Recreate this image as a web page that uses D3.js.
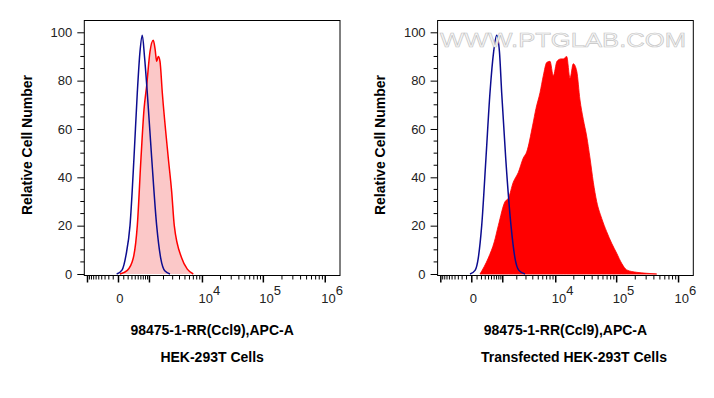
<!DOCTYPE html>
<html>
<head>
<meta charset="utf-8">
<script src="https://cdn.jsdelivr.net/npm/d3@7"></script>
<style>
  html, body { margin: 0; padding: 0; background: #fff; }
  svg { display: block; font-family: Arial, 'Liberation Sans', sans-serif; }
</style>
</head>
<body>
<div id="chart"></div>
<script>
// ---------------- data ----------------
const panelTitles = ['HEK-293T Cells', 'Transfected HEK-293T Cells'];
const xAxisTitle = '98475-1-RR(Ccl9),APC-A';
const yAxisTitle = 'Relative Cell Number';

// fluorescence values (APC-A) and relative cell counts
const leftBlueX = [-32, 64, 149, 247, 360, 468, 566, 657, 753, 886, 1126, 1449, 1757, 2140, 2672];
const leftBlueY = [0, 1.6, 7.8, 20, 48, 75, 92, 98.8, 90, 75, 48, 20, 6.6, 1.2, 0];

const leftRedX = [26, 180, 339, 468, 605, 731, 856, 1029, 1222, 1340, 1449, 1567, 1699, 1893, 2480, 2876, 3214, 4376, 5500, 6982];
const leftRedY = [0, 1.5, 6.6, 20, 48, 68, 78, 92, 96.7, 93, 88, 90, 88, 75, 48, 34, 20, 6.6, 2, 0];

const rightBlueX = [-32, 60, 126, 206, 321, 447, 580, 705, 830, 942, 1168, 1523, 1839, 2200, 2876];
const rightBlueY = [0, 1.5, 6.6, 20, 48, 75, 92, 98.8, 92, 75, 48, 20, 6.6, 1.5, 0];

const rightRedX = [165, 391, 605, 776, 1126, 1333, 1699, 2140, 2672, 3093, 3983, 4562, 5367, 6127, 7015, 7990,
  9090, 10490, 12250, 13380, 15250, 17300, 19610, 22320, 25280, 28620, 32550, 36860, 41750, 47410, 57180,
  68940, 83100, 100150, 120660, 145400, 211100, 306000, 443600];
const rightRedY = [0, 6.6, 13.3, 20, 29.9, 31.3, 38, 42, 48, 50.5, 61.6, 68.5, 75, 82, 87.5, 88,
  82, 88, 89, 89, 90, 81, 87, 84, 72, 64, 57, 48, 38, 30, 23,
  17.5, 12.7, 8.6, 4.4, 1.7, 0.7, 0.3, 0];

const yTickValues = [0, 20, 40, 60, 80, 100];
const xLabelValues = [0, 1e4, 1e5, 1e6];
const xLabelExps = ['', '4', '5', '6'];
const xMajorTicks = [-1e3, 0, 1e3, 1e4, 1e5, 1e6];

// ---------------- settings ----------------
const settings = {
  color: {
    axis: '#000',
    blue: '#0c0c90',
    red: '#ff0000',
    pink: '#fbc8c8',
    text: '#222'
  }
};

const totalWidth = 714, totalHeight = 398;
const panel = { left: 84.3, top: 20.5, width: 255.7, height: 255, step: 353.3 };
const sampleTitleShift = [0, 8.5];

function zip(xs, ys){ return xs.map((x, i) => ({ x: x, y: ys[i] })); }

const panels = [
  { title: panelTitles[0], red: zip(leftRedX, leftRedY), blue: zip(leftBlueX, leftBlueY), filled: false },
  { title: panelTitles[1], red: zip(rightRedX, rightRedY), blue: zip(rightBlueX, rightBlueY), filled: true }
];

// minor x ticks: 2..9 per decade, both signs near zero
const xMinorTicks = [];
[100, 1000, 10000, 100000].forEach(function(dec){
  for (let k = 1; k <= 9; k++){
    const v = k * dec;
    if (xMajorTicks.indexOf(v) < 0) xMinorTicks.push(v);
    if (dec <= 100) xMinorTicks.push(-v);
  }
});

// ---------------- svg ----------------
const svg = d3.select('#chart').append('svg')
  .attr('width', totalWidth)
  .attr('height', totalHeight);

const xScale = d3.scaleSymlog()
  .constant(463)
  .domain([-1185, 1.73e6])
  .range([0, panel.width]);

const yScale = d3.scaleLinear()
  .domain([0, 100])
  .range([253.5, 11.8]);

const area = d3.area()
  .x(d => xScale(d.x))
  .y0(yScale(0))
  .y1(d => yScale(d.y))
  .curve(d3.curveMonotoneX);

const line = d3.line()
  .x(d => xScale(d.x))
  .y(d => yScale(d.y))
  .curve(d3.curveMonotoneX);

svg.append('defs').append('clipPath')
  .attr('id', 'plotClip')
  .append('rect')
    .attr('width', panel.width)
    .attr('height', panel.height);

panels.forEach(function(p, i){
  const g = svg.append('g')
    .attr('transform', 'translate(' + (panel.left + i * panel.step) + ',' + panel.top + ')');

  //------------------ curves ------------------
  const plot = g.append('g').attr('clip-path', 'url(#plotClip)');

  if (p.filled){
    plot.append('path')
      .attr('d', area(p.red))
      .attr('fill', settings.color.red)
      .attr('stroke', settings.color.red)
      .attr('stroke-width', 0.8);
  } else {
    plot.append('path')
      .attr('d', area(p.red))
      .attr('fill', settings.color.pink);
    plot.append('path')
      .attr('d', line(p.red))
      .attr('fill', 'none')
      .attr('stroke', settings.color.red)
      .attr('stroke-width', 1.5);
  }

  plot.append('path')
    .attr('d', line(p.blue))
    .attr('fill', 'none')
    .attr('stroke', settings.color.blue)
    .attr('stroke-width', 1.5);

  //------------------ watermark ------------------
  if (i === 1){
    g.append('text')
      .attr('x', 440 - (panel.left + panel.step))
      .attr('y', 46.5 - panel.top)
      .attr('textLength', 246)
      .attr('lengthAdjust', 'spacingAndGlyphs')
      .style('font-size', '20px')
      .style('fill', '#f7f7f7')
      .style('stroke', '#c4c4c4')
      .style('stroke-width', 0.6)
      .text('WWW.PTGLAB.COM');
  }

  //------------------ frame ------------------
  g.append('rect')
    .attr('width', panel.width)
    .attr('height', panel.height)
    .attr('fill', 'none')
    .attr('stroke', settings.color.axis)
    .attr('stroke-width', 1);

  //------------------ y axis ------------------
  const yMinor = d3.range(0, 101, 5).filter(v => v % 20 !== 0);
  g.append('g').selectAll('line.minor')
    .data(yMinor).enter().append('line')
      .attr('x1', -4).attr('x2', 0)
      .attr('y1', d => yScale(d)).attr('y2', d => yScale(d))
      .attr('stroke', settings.color.axis);
  const yAxisView = g.append('g')
    .call(d3.axisLeft(yScale).tickValues(yTickValues).tickSize(7).tickPadding(5));
  yAxisView.select('.domain').remove();
  yAxisView.selectAll('line').attr('stroke', settings.color.axis);
  yAxisView.selectAll('text')
    .style('font-size', '13px')
    .style('font-family', 'Arial, "Liberation Sans", sans-serif')
    .attr('fill', settings.color.text);

  g.append('text')
    .attr('transform', 'translate(' + (32 - panel.left) + ',' + (145 - panel.top) + ') rotate(-90)')
    .attr('text-anchor', 'middle')
    .style('font-size', '14px')
    .style('font-weight', 'bold')
    .text(yAxisTitle);

  //------------------ x axis ------------------
  const xg = g.append('g').attr('transform', 'translate(0,' + panel.height + ')');
  xg.selectAll('line.minor')
    .data(xMinorTicks).enter().append('line')
      .attr('x1', d => xScale(d)).attr('x2', d => xScale(d))
      .attr('y1', 0).attr('y2', 4)
      .attr('stroke', settings.color.axis);
  xg.selectAll('line.major')
    .data(xMajorTicks).enter().append('line')
      .attr('x1', d => xScale(d)).attr('x2', d => xScale(d))
      .attr('y1', 0).attr('y2', 7)
      .attr('stroke', settings.color.axis)
      .attr('stroke-width', 1.5);

  xLabelValues.forEach(function(v, k){
    const t = xg.append('text')
      .attr('y', 27)
      .style('font-size', '13px')
      .attr('fill', settings.color.text);
    if (xLabelExps[k] === ''){
      t.attr('x', xScale(v) + 1.5).attr('text-anchor', 'middle').text('0');
    } else {
      t.attr('x', xScale(v) - 4);
      t.append('tspan').text('10');
      t.append('tspan').attr('dy', -8).text(xLabelExps[k]);
    }
  });

  //------------------ titles ------------------
  g.append('text')
    .attr('x', panel.width / 2)
    .attr('y', 335 - panel.top)
    .attr('text-anchor', 'middle')
    .style('font-size', '14px')
    .style('font-weight', 'bold')
    .text(xAxisTitle);

  g.append('text')
    .attr('x', panel.width / 2 + sampleTitleShift[i])
    .attr('y', 362 - panel.top)
    .attr('text-anchor', 'middle')
    .style('font-size', '14px')
    .style('font-weight', 'bold')
    .text(p.title);
});
</script>
</body>
</html>
